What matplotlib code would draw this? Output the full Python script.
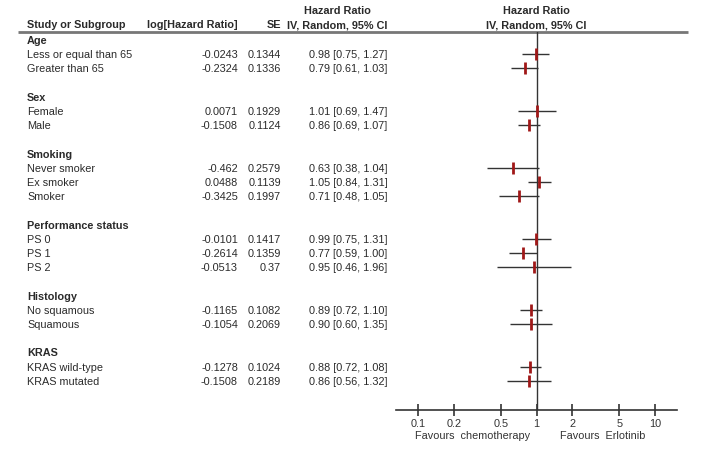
import matplotlib
matplotlib.use('Agg')
import matplotlib.pyplot as plt

plt.rcParams['font.family'] = ['Liberation Sans', 'DejaVu Sans']

# datos por subgrupo
grupos = ['Age', 'Sex', 'Smoking', 'Performance status', 'Histology', 'KRAS']
subgrupos = [
    ['Less or equal than 65', 'Greater than 65'],
    ['Female', 'Male'],
    ['Never smoker', 'Ex smoker', 'Smoker'],
    ['PS 0', 'PS 1', 'PS 2'],
    ['No squamous', 'Squamous'],
    ['KRAS wild-type', 'KRAS mutated'],
]
log_hr = ['-0.0243', '-0.2324', '0.0071', '-0.1508', '-0.462', '0.0488', '-0.3425',
          '-0.0101', '-0.2614', '-0.0513', '-0.1165', '-0.1054', '-0.1278', '-0.1508']
se = ['0.1344', '0.1336', '0.1929', '0.1124', '0.2579', '0.1139', '0.1997',
      '0.1417', '0.1359', '0.37', '0.1082', '0.2069', '0.1024', '0.2189']
hr = [0.98, 0.79, 1.01, 0.86, 0.63, 1.05, 0.71, 0.99, 0.77, 0.95, 0.89, 0.90, 0.88, 0.86]
ci_lo = [0.75, 0.61, 0.69, 0.69, 0.38, 0.84, 0.48, 0.75, 0.59, 0.46, 0.72, 0.60, 0.72, 0.56]
ci_hi = [1.27, 1.03, 1.47, 1.07, 1.04, 1.31, 1.05, 1.31, 1.00, 1.96, 1.10, 1.35, 1.08, 1.32]
ticks = [0.1, 0.2, 0.5, 1, 2, 5, 10]

W, H = 705, 452
y0, paso = 41, 14.2
txt = '#2a2a2a'
fs = 7.8

fig = plt.figure(figsize=(W / 100, H / 100), dpi=100)

# fondo en pixeles para el texto de la tabla
bg = fig.add_axes([0, 0, 1, 1])
bg.set_xlim(0, W)
bg.set_ylim(H, 0)
bg.axis('off')

# ejes del forest plot
px0, px1, py0, py1 = 396, 677, 33, 411
ax = fig.add_axes([px0 / W, 1 - py1 / H, (px1 - px0) / W, (py1 - py0) / H])
ax.set_xscale('log')
ax.set_xlim(0.065, 15.3)
ax.set_ylim((py1 - y0) / paso, (py0 - y0) / paso)
for s in ['top', 'right', 'left']:
    ax.spines[s].set_visible(False)
ax.spines['bottom'].set_color('#333333')
ax.spines['bottom'].set_linewidth(1.2)
ax.set_xticks(ticks)
ax.set_xticklabels([str(t) for t in ticks])
ax.minorticks_off()
ax.tick_params(axis='x', direction='inout', length=9, width=1.2, color='#333333',
               labelsize=fs, labelcolor='#333333', pad=1)
ax.set_yticks([])
ax.patch.set_alpha(0)
ax.axvline(1, color='#333333', lw=1)

# encabezados
bold = dict(fontsize=fs, fontweight='bold', color=txt, va='center')
bg.text(27, 25, 'Study or Subgroup', ha='left', **bold)
bg.text(238, 25, 'log[Hazard Ratio]', ha='right', **bold)
bg.text(281, 25, 'SE', ha='right', **bold)
bg.text(337, 11, 'Hazard Ratio', ha='center', **bold)
bg.text(337, 25, 'IV, Random, 95% CI', ha='center', **bold)
bg.text(536, 11, 'Hazard Ratio', ha='center', **bold)
bg.text(536, 25, 'IV, Random, 95% CI', ha='center', **bold)
bg.plot([18, 688], [33, 33], color='#777777', lw=2, solid_capstyle='butt')

fila = 0
k = 0
filas_datos = []
for g, subs in zip(grupos, subgrupos):
    bg.text(27, y0 + fila * paso, g, ha='left', **bold)
    fila += 1
    for s in subs:
        y = y0 + fila * paso
        bg.text(27, y, s, ha='left', va='center', fontsize=fs, color=txt)
        bg.text(238, y, log_hr[k], ha='right', va='center', fontsize=fs, color=txt)
        bg.text(281, y, se[k], ha='right', va='center', fontsize=fs, color=txt)
        bg.text(309, y, '%.2f [%.2f, %.2f]' % (hr[k], ci_lo[k], ci_hi[k]),
                ha='left', va='center', fontsize=fs, color=txt)
        filas_datos.append(fila)
        fila += 1
        k += 1
    fila += 1

ax.hlines(filas_datos, ci_lo, ci_hi, color='#333333', lw=1)
ax.plot(hr, filas_datos, ls='none', marker='|', markersize=8, mew=2, color='#a01818')

bg.text(473, 436, 'Favours  chemotherapy', ha='center', va='center', fontsize=fs, color='#333333')
bg.text(603, 436, 'Favours  Erlotinib', ha='center', va='center', fontsize=fs, color='#333333')

fig.savefig('out.png', dpi=100)
